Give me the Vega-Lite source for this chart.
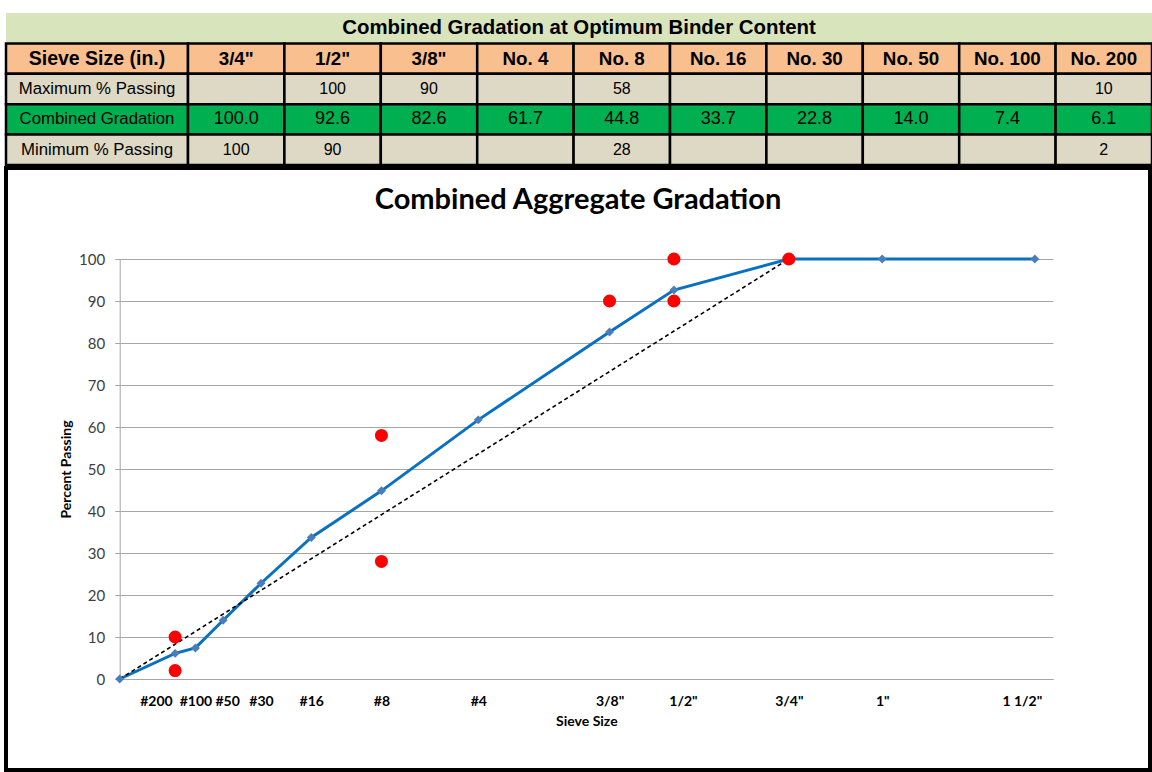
{
  "$schema": "https://vega.github.io/schema/vega-lite/v6.json",
  "padding": {"left": 4, "top": 13, "right": 0, "bottom": 0},
  "background": "white",
  "config": {"view": {"stroke": null}},
  "datasets": {
    "table": [
      {"row": "title", "col": "title", "txt": "Combined Gradation at Optimum Binder Content"},
      {"row": "Sieve Size (in.)", "col": "label", "txt": "Sieve Size (in.)"},
      {"row": "Maximum % Passing", "col": "label", "txt": "Maximum % Passing"},
      {"row": "Combined Gradation", "col": "label", "txt": "Combined Gradation"},
      {"row": "Minimum % Passing", "col": "label", "txt": "Minimum % Passing"},
      {"row": "Sieve Size (in.)", "col": "3/4\"", "txt": "3/4\""},
      {"row": "Sieve Size (in.)", "col": "1/2\"", "txt": "1/2\""},
      {"row": "Sieve Size (in.)", "col": "3/8\"", "txt": "3/8\""},
      {"row": "Sieve Size (in.)", "col": "No. 4", "txt": "No. 4"},
      {"row": "Sieve Size (in.)", "col": "No. 8", "txt": "No. 8"},
      {"row": "Sieve Size (in.)", "col": "No. 16", "txt": "No. 16"},
      {"row": "Sieve Size (in.)", "col": "No. 30", "txt": "No. 30"},
      {"row": "Sieve Size (in.)", "col": "No. 50", "txt": "No. 50"},
      {"row": "Sieve Size (in.)", "col": "No. 100", "txt": "No. 100"},
      {"row": "Sieve Size (in.)", "col": "No. 200", "txt": "No. 200"},
      {"row": "Maximum % Passing", "col": "3/4\"", "txt": ""},
      {"row": "Maximum % Passing", "col": "1/2\"", "txt": "100"},
      {"row": "Maximum % Passing", "col": "3/8\"", "txt": "90"},
      {"row": "Maximum % Passing", "col": "No. 4", "txt": ""},
      {"row": "Maximum % Passing", "col": "No. 8", "txt": "58"},
      {"row": "Maximum % Passing", "col": "No. 16", "txt": ""},
      {"row": "Maximum % Passing", "col": "No. 30", "txt": ""},
      {"row": "Maximum % Passing", "col": "No. 50", "txt": ""},
      {"row": "Maximum % Passing", "col": "No. 100", "txt": ""},
      {"row": "Maximum % Passing", "col": "No. 200", "txt": "10"},
      {"row": "Combined Gradation", "col": "3/4\"", "txt": "100.0"},
      {"row": "Combined Gradation", "col": "1/2\"", "txt": "92.6"},
      {"row": "Combined Gradation", "col": "3/8\"", "txt": "82.6"},
      {"row": "Combined Gradation", "col": "No. 4", "txt": "61.7"},
      {"row": "Combined Gradation", "col": "No. 8", "txt": "44.8"},
      {"row": "Combined Gradation", "col": "No. 16", "txt": "33.7"},
      {"row": "Combined Gradation", "col": "No. 30", "txt": "22.8"},
      {"row": "Combined Gradation", "col": "No. 50", "txt": "14.0"},
      {"row": "Combined Gradation", "col": "No. 100", "txt": "7.4"},
      {"row": "Combined Gradation", "col": "No. 200", "txt": "6.1"},
      {"row": "Minimum % Passing", "col": "3/4\"", "txt": "100"},
      {"row": "Minimum % Passing", "col": "1/2\"", "txt": "90"},
      {"row": "Minimum % Passing", "col": "3/8\"", "txt": ""},
      {"row": "Minimum % Passing", "col": "No. 4", "txt": ""},
      {"row": "Minimum % Passing", "col": "No. 8", "txt": "28"},
      {"row": "Minimum % Passing", "col": "No. 16", "txt": ""},
      {"row": "Minimum % Passing", "col": "No. 30", "txt": ""},
      {"row": "Minimum % Passing", "col": "No. 50", "txt": ""},
      {"row": "Minimum % Passing", "col": "No. 100", "txt": ""},
      {"row": "Minimum % Passing", "col": "No. 200", "txt": "2"}
    ],
    "grad": [
      {"mm": 0, "pct": 0},
      {"mm": 0.075, "pct": 6.1},
      {"mm": 0.15, "pct": 7.4},
      {"mm": 0.3, "pct": 14.0},
      {"mm": 0.6, "pct": 22.8},
      {"mm": 1.18, "pct": 33.7},
      {"mm": 2.36, "pct": 44.8},
      {"mm": 4.75, "pct": 61.7},
      {"mm": 9.5, "pct": 82.6},
      {"mm": 12.5, "pct": 92.6},
      {"mm": 19, "pct": 100},
      {"mm": 25.4, "pct": 100},
      {"mm": 38.1, "pct": 100}
    ],
    "maxden": [
      {"mm": 0, "pct": 0},
      {"mm": 19, "pct": 100}
    ],
    "ctrl": [
      {"mm": 0.075, "pct": 10},
      {"mm": 0.075, "pct": 2},
      {"mm": 2.36, "pct": 58},
      {"mm": 2.36, "pct": 28},
      {"mm": 9.5, "pct": 90},
      {"mm": 12.5, "pct": 100},
      {"mm": 12.5, "pct": 90},
      {"mm": 19, "pct": 100}
    ]
  },
  "vconcat": [
    {
      "width": 1146,
      "height": 152,
      "data": {"name": "table"},
      "encoding": {
        "y": {"field": "row", "type": "nominal", "axis": null, "scale": {"domain": ["title", "Sieve Size (in.)", "Maximum % Passing", "Combined Gradation", "Minimum % Passing"], "paddingInner": 0, "paddingOuter": 0}}
      },
      "layer": [
        {
          "transform": [{"filter": "datum.col == 'title'"}],
          "mark": {"type": "rect"},
          "encoding": {
            "x": {"field": "col", "type": "nominal", "axis": null, "scale": {"domain": ["title"], "range": [0, 1146], "paddingInner": 0, "paddingOuter": 0}},
            "fill": {"field": "row", "type": "nominal", "legend": null, "scale": {"domain": ["title", "Sieve Size (in.)", "Maximum % Passing", "Combined Gradation", "Minimum % Passing"], "range": ["#d8e4bc", "#fabf8f", "#ddd9c4", "#00b050", "#ddd9c4"]}}
          }
        },
        {
          "transform": [{"filter": "datum.col == 'title'"}],
          "mark": {"type": "text", "font": "Liberation Sans", "fontSize": 20.4, "fontWeight": "bold", "color": "black", "baseline": "middle", "align": "center"},
          "encoding": {
            "x": {"field": "col", "type": "nominal", "axis": null, "scale": {"domain": ["title"], "range": [0, 1146], "paddingInner": 0, "paddingOuter": 0}},
            "text": {"field": "txt", "type": "nominal"}
          }
        },
        {
          "transform": [{"filter": "datum.col == 'label'"}],
          "mark": {"type": "rect", "stroke": "black", "strokeWidth": 2.5},
          "encoding": {
            "x": {"field": "col", "type": "nominal", "axis": null, "scale": {"domain": ["label"], "range": [0, 182], "paddingInner": 0, "paddingOuter": 0}},
            "fill": {"field": "row", "type": "nominal", "legend": null}
          }
        },
        {
          "transform": [{"filter": "datum.col == 'label' && datum.row == 'Sieve Size (in.)'"}],
          "mark": {"type": "text", "font": "Liberation Sans", "fontSize": 19.5, "fontWeight": "bold", "color": "black", "baseline": "middle", "align": "center"},
          "encoding": {
            "x": {"field": "col", "type": "nominal", "axis": null, "scale": {"domain": ["label"], "range": [0, 182], "paddingInner": 0, "paddingOuter": 0}},
            "text": {"field": "txt", "type": "nominal"}
          }
        },
        {
          "transform": [{"filter": "datum.col == 'label' && datum.row != 'Sieve Size (in.)'"}],
          "mark": {"type": "text", "font": "Liberation Sans", "fontSize": 16.8, "color": "black", "baseline": "middle", "align": "center"},
          "encoding": {
            "x": {"field": "col", "type": "nominal", "axis": null, "scale": {"domain": ["label"], "range": [0, 182], "paddingInner": 0, "paddingOuter": 0}},
            "text": {"field": "txt", "type": "nominal"}
          }
        },
        {
          "transform": [{"filter": "datum.col != 'label' && datum.col != 'title'"}],
          "mark": {"type": "rect", "stroke": "black", "strokeWidth": 2.5},
          "encoding": {
            "x": {"field": "col", "type": "nominal", "axis": null, "scale": {"domain": ["3/4\"", "1/2\"", "3/8\"", "No. 4", "No. 8", "No. 16", "No. 30", "No. 50", "No. 100", "No. 200"], "range": [182, 1146], "paddingInner": 0, "paddingOuter": 0}},
            "fill": {"field": "row", "type": "nominal", "legend": null}
          }
        },
        {
          "transform": [{"filter": "datum.col != 'label' && datum.col != 'title' && datum.row == 'Sieve Size (in.)'"}],
          "mark": {"type": "text", "font": "Liberation Sans", "fontSize": 18.8, "fontWeight": "bold", "color": "black", "baseline": "middle", "align": "center"},
          "encoding": {
            "x": {"field": "col", "type": "nominal", "axis": null, "scale": {"domain": ["3/4\"", "1/2\"", "3/8\"", "No. 4", "No. 8", "No. 16", "No. 30", "No. 50", "No. 100", "No. 200"], "range": [182, 1146], "paddingInner": 0, "paddingOuter": 0}},
            "text": {"field": "txt", "type": "nominal"}
          }
        },
        {
          "transform": [{"filter": "datum.col != 'label' && datum.col != 'title' && datum.row == 'Combined Gradation'"}],
          "mark": {"type": "text", "font": "Liberation Sans", "fontSize": 18, "color": "black", "baseline": "middle", "align": "center"},
          "encoding": {
            "x": {"field": "col", "type": "nominal", "axis": null, "scale": {"domain": ["3/4\"", "1/2\"", "3/8\"", "No. 4", "No. 8", "No. 16", "No. 30", "No. 50", "No. 100", "No. 200"], "range": [182, 1146], "paddingInner": 0, "paddingOuter": 0}},
            "text": {"field": "txt", "type": "nominal"}
          }
        },
        {
          "transform": [{"filter": "datum.col != 'label' && datum.col != 'title' && (datum.row == 'Maximum % Passing' || datum.row == 'Minimum % Passing')"}],
          "mark": {"type": "text", "font": "Liberation Sans", "fontSize": 16, "color": "black", "baseline": "middle", "align": "center"},
          "encoding": {
            "x": {"field": "col", "type": "nominal", "axis": null, "scale": {"domain": ["3/4\"", "1/2\"", "3/8\"", "No. 4", "No. 8", "No. 16", "No. 30", "No. 50", "No. 100", "No. 200"], "range": [182, 1146], "paddingInner": 0, "paddingOuter": 0}},
            "text": {"field": "txt", "type": "nominal"}
          }
        }
      ],
      "resolve": {"scale": {"x": "independent"}, "axis": {"x": "independent"}}
    },
    {
      "width": 1144,
      "height": 602,
      "view": {"stroke": "black", "strokeWidth": 4, "fill": "white"},
      "title": {"text": "Combined Aggregate Gradation", "font": "Lato", "fontSize": 29, "fontWeight": "bold", "color": "black", "anchor": "middle", "frame": "group", "baseline": "alphabetic", "offset": -70},
      "encoding": {
        "x": {
          "field": "mm", "type": "quantitative",
          "scale": {"type": "pow", "exponent": 0.45, "domain": [0, 39.8], "range": [113.7, 1047], "nice": false, "zero": true},
          "axis": {
            "title": "Sieve Size",
            "values": [0.075, 0.15, 0.3, 0.6, 1.18, 2.36, 4.75, 9.5, 12.5, 19, 25.4, 38.1],
            "labelExpr": "datum.value == 0.075 ? '#200' : datum.value == 0.15 ? '#100' : datum.value == 0.3 ? '#50' : datum.value == 0.6 ? '#30' : datum.value == 1.18 ? '#16' : datum.value == 2.36 ? '#8' : datum.value == 4.75 ? '#4' : datum.value == 9.5 ? '3/8\"' : datum.value == 12.5 ? '1/2\"' : datum.value == 19 ? '3/4\"' : datum.value == 25.4 ? '1\"' : '1 1/2\"'",
            "labelAlign": {"condition": {"test": "datum.value == 0.075", "value": "right"}, "value": "center"},
            "labelOffset": {"condition": [{"test": "datum.value == 12.5", "value": 9}, {"test": "datum.value == 38.1", "value": -13}, {"test": "datum.value == 0.3", "value": 4}, {"test": "datum.value == 0.075", "value": -3}], "value": 0},
            "offset": -91,
            "grid": false,
            "ticks": false,
            "domain": true,
            "domainColor": "#a6a6a6",
            "domainWidth": 1,
            "labelFont": "Lato",
            "labelFontSize": 14,
            "labelFontWeight": "bold",
            "labelColor": "black",
            "labelPadding": 15,
            "labelOverlap": false,
            "labelFlush": false,
            "labelBound": false,
            "titleFont": "Lato",
            "titleFontSize": 14,
            "titleFontWeight": "bold",
            "titleColor": "black",
            "titlePadding": 6
          }
        },
        "y": {
          "field": "pct", "type": "quantitative",
          "scale": {"domain": [0, 100], "range": [511, 91], "nice": false},
          "axis": {
            "title": "Percent Passing",
            "values": [0, 10, 20, 30, 40, 50, 60, 70, 80, 90, 100],
            "offset": -113.7,
            "grid": true,
            "gridColor": "#a6a6a6",
            "gridWidth": 1,
            "domain": true,
            "domainColor": "#a6a6a6",
            "ticks": true,
            "tickColor": "#a6a6a6",
            "tickSize": 5,
            "labelFont": "Lato",
            "labelFontSize": 15,
            "labelColor": "#404040",
            "labelPadding": 10,
            "titleFont": "Lato",
            "titleFontSize": 14,
            "titleFontWeight": "bold",
            "titleColor": "black",
            "titlePadding": 5
          }
        }
      },
      "layer": [
        {
          "data": {"name": "grad"},
          "mark": {"type": "line", "color": "#0a70c2", "strokeWidth": 3}
        },
        {
          "data": {"name": "maxden"},
          "mark": {"type": "line", "color": "black", "strokeWidth": 1.6, "strokeDash": [4, 3]}
        },
        {
          "data": {"name": "grad"},
          "mark": {"type": "point", "shape": "diamond", "filled": true, "size": 80, "color": "#4a7ebb", "opacity": 1}
        },
        {
          "data": {"name": "ctrl"},
          "mark": {"type": "point", "shape": "circle", "filled": true, "size": 170, "color": "#ff0000", "opacity": 1}
        }
      ]
    }
  ],
  "spacing": 3,
  "bounds": "flush"
}
